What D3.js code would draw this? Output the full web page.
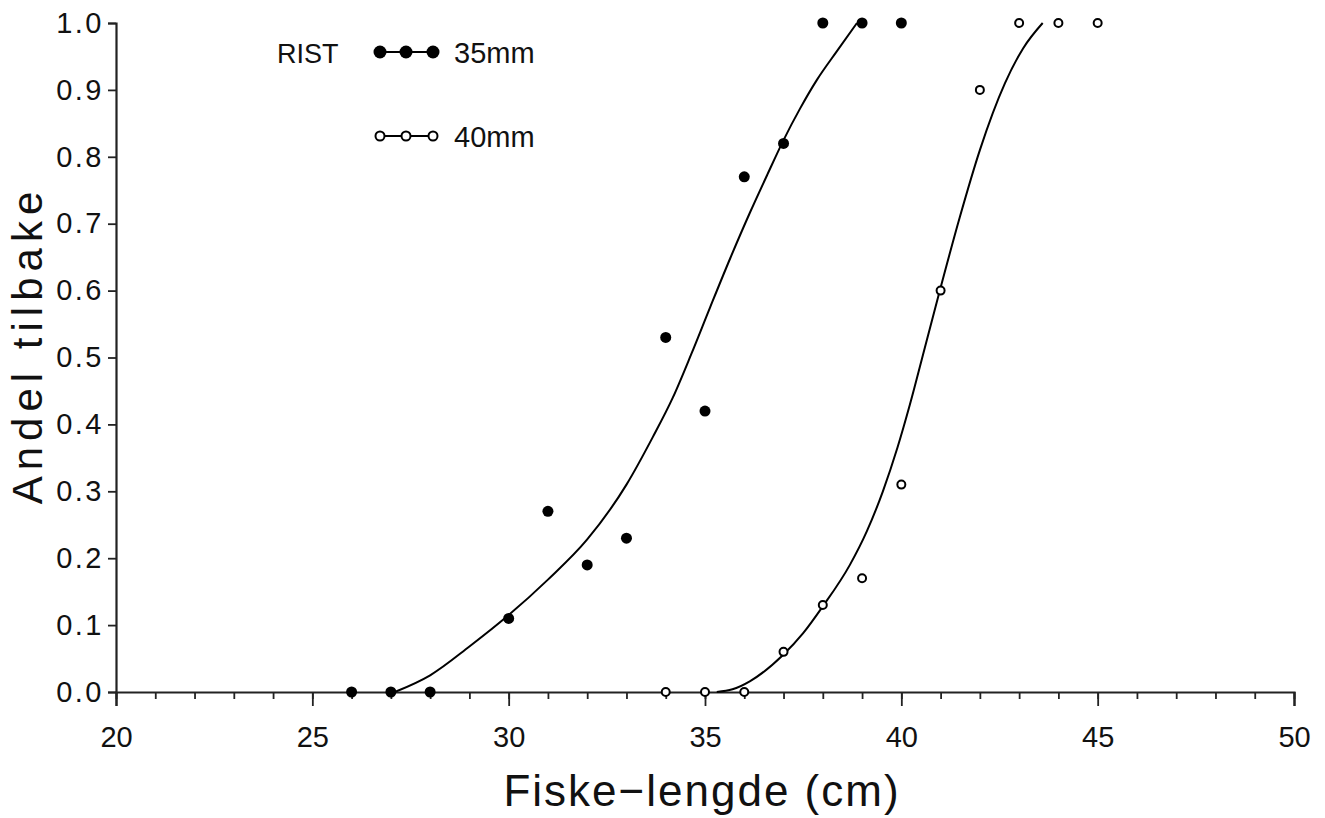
<!DOCTYPE html>
<html lang="en">
<head>
  <title>Andel tilbake - RIST 35mm / 40mm</title>
  <!-- d3 v7 for scales, axes and lines -->
  <script src="https://cdn.jsdelivr.net/npm/d3@7"></script>
  <style>
    body { margin: 0; background: #fff; }
    text { font-family: "Liberation Sans", Arial, sans-serif; fill: #111; }
  </style>
</head>
<body>
  <div id="chart"></div>
  <script>
    /* observed points, 35mm mesh (filled dots) */
    var len35 = [26, 27, 28, 30, 31, 32, 33, 34, 35, 36, 37, 38, 39, 40];
    var val35 = [0, 0, 0, 0.11, 0.27, 0.19, 0.23, 0.53, 0.42, 0.77, 0.82, 1.0, 1.0, 1.0];

    /* observed points, 40mm mesh (open dots) */
    var len40 = [34, 35, 36, 37, 38, 39, 40, 41, 42, 43, 44, 45];
    var val40 = [0, 0, 0, 0.06, 0.13, 0.17, 0.31, 0.60, 0.90, 1.0, 1.0, 1.0];

    /* fitted curves */
    var fitLen35 = [27.1, 28.0, 29.0, 30.0, 31.0, 32.0, 33.0, 33.67, 34.18, 34.65, 35.13, 35.64, 36.14, 36.6, 37.0, 37.42, 37.85, 38.36, 38.87];
    var fitVal35 = [0.0, 0.025, 0.068, 0.115, 0.168, 0.228, 0.31, 0.381, 0.44, 0.505, 0.575, 0.648, 0.716, 0.775, 0.825, 0.872, 0.915, 0.958, 1.0];
    var fitLen40 = [35.3, 35.7, 36.14, 36.98, 37.5, 38.0, 38.69, 39.12, 39.53, 39.9, 40.22, 40.6, 40.98, 41.49, 42.0, 42.64, 43.1, 43.6];
    var fitVal40 = [0.0, 0.004, 0.016, 0.055, 0.088, 0.128, 0.19, 0.24, 0.30, 0.365, 0.43, 0.515, 0.60, 0.71, 0.81, 0.91, 0.962, 1.0];

    /* tick labels */
    var xTicks = [20, 25, 30, 35, 40, 45, 50];
    var yTicks = [0, 0.1, 0.2, 0.3, 0.4, 0.5, 0.6, 0.7, 0.8, 0.9, 1.0];
    var legendTitle = "RIST";
    var legendNames = ["35mm", "40mm"];

    var width = 1325, height = 818;
    var margin = { left: 116, right: 1294, top: 23, bottom: 692 };

    var x = d3.scaleLinear().domain([20, 50]).range([margin.left, margin.right]);
    var y = d3.scaleLinear().domain([0, 1]).range([margin.bottom, margin.top]);

    var svg = d3.select("#chart").append("svg")
        .attr("width", width)
        .attr("height", height);

    /* x axis: major ticks every 5 cm, minor every cm, all pointing down */
    var xMinor = d3.axisBottom(x).tickValues(d3.range(20, 51, 1)).tickSize(7).tickFormat("");
    svg.append("g")
        .attr("transform", "translate(0," + margin.bottom + ")")
        .call(xMinor)
        .call(function(g) { g.select(".domain").remove(); });

    var xAxis = d3.axisBottom(x).tickValues(xTicks).tickSize(14).tickPadding(20).tickFormat(d3.format("d"));
    var gx = svg.append("g")
        .attr("transform", "translate(0," + margin.bottom + ")")
        .call(xAxis);
    gx.selectAll("text").attr("font-size", 29).attr("font-family", null);

    var yAxis = d3.axisLeft(y).tickValues(yTicks).tickSize(8).tickPadding(4).tickFormat(d3.format(".1f"));
    var gy = svg.append("g")
        .attr("transform", "translate(" + margin.left + ",0)")
        .call(yAxis);
    gy.selectAll("text")
        .attr("font-size", 29)
        .attr("font-family", null)
        .attr("letter-spacing", 2.5);

    svg.selectAll(".domain").attr("stroke-width", 2.2).attr("stroke", "#222");
    svg.selectAll(".tick line").attr("stroke-width", 1.8).attr("stroke", "#222");

    /* fitted curves */
    var line = d3.line()
        .x(function(d) { return x(d[0]); })
        .y(function(d) { return y(d[1]); })
        .curve(d3.curveMonotoneX);

    svg.append("path")
        .datum(d3.zip(fitLen35, fitVal35))
        .attr("d", line)
        .attr("fill", "none")
        .attr("stroke", "#000")
        .attr("stroke-width", 2);

    svg.append("path")
        .datum(d3.zip(fitLen40, fitVal40))
        .attr("d", line)
        .attr("fill", "none")
        .attr("stroke", "#000")
        .attr("stroke-width", 2);

    /* observed points */
    svg.selectAll(".dot35")
        .data(d3.zip(len35, val35))
        .enter().append("circle")
        .attr("class", "dot35")
        .attr("cx", function(d) { return x(d[0]); })
        .attr("cy", function(d) { return y(d[1]); })
        .attr("r", 5.5)
        .attr("fill", "#000");

    svg.selectAll(".dot40")
        .data(d3.zip(len40, val40))
        .enter().append("circle")
        .attr("class", "dot40")
        .attr("cx", function(d) { return x(d[0]); })
        .attr("cy", function(d) { return y(d[1]); })
        .attr("r", 4)
        .attr("fill", "#fff")
        .attr("stroke", "#000")
        .attr("stroke-width", 2);

    /* legend */
    svg.append("text")
        .attr("x", 277).attr("y", 63)
        .attr("font-size", 27)
        .text(legendTitle);

    var legendY = [52, 136];
    legendNames.forEach(function(name, i) {
      var g = svg.append("g");
      g.append("line")
          .attr("x1", 380).attr("x2", 433)
          .attr("y1", legendY[i]).attr("y2", legendY[i])
          .attr("stroke", "#000").attr("stroke-width", 2);
      [380, 406, 433].forEach(function(cx) {
        g.append("circle")
            .attr("cx", cx).attr("cy", legendY[i])
            .attr("r", i == 0 ? 6.5 : 4.5)
            .attr("fill", i == 0 ? "#000" : "#fff")
            .attr("stroke", "#000")
            .attr("stroke-width", i == 0 ? 0 : 2);
      });
      g.append("text")
          .attr("x", 454).attr("y", legendY[i] + 11)
          .attr("font-size", 29)
          .text(name);
    });

    /* axis titles */
    svg.append("text")
        .attr("x", 702).attr("y", 806)
        .attr("text-anchor", "middle")
        .attr("font-size", 44)
        .attr("letter-spacing", 2)
        .text("Fiske\u2212lengde (cm)");

    svg.append("text")
        .attr("transform", "translate(42," + 345 + ") rotate(-90)")
        .attr("text-anchor", "middle")
        .attr("font-size", 42)
        .attr("letter-spacing", 6)
        .text("Andel tilbake");
  </script>
</body>
</html>
